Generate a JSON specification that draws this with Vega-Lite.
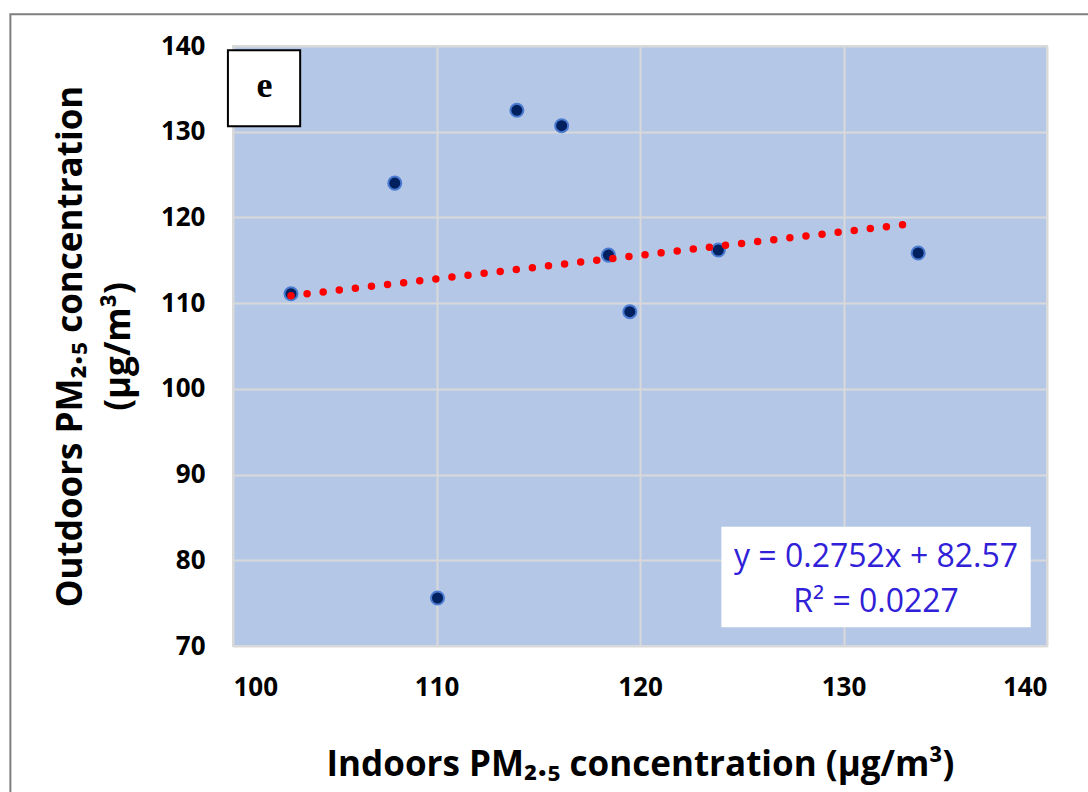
{
  "$schema": "https://vega.github.io/schema/vega-lite/v6.json",
  "width": 814,
  "height": 600,
  "autosize": {"type": "none"},
  "padding": {"left": 233, "top": 46, "right": 41, "bottom": 146},
  "background": "white",
  "config": {
    "view": {"fill": "#b4c7e7", "stroke": "#d9d9d9", "strokeWidth": 2},
    "axis": {
      "grid": true, "gridColor": "#d9d9d9", "gridWidth": 2,
      "domain": false, "ticks": false,
      "labelFont": "Open Sans", "labelFontWeight": "bold", "labelFontSize": 26, "labelColor": "#000000",
      "titleFont": "Open Sans", "titleFontWeight": "bold", "titleFontSize": 35, "titleColor": "#000000"
    }
  },
  "datasets": {
    "points": [
      {"indoor": 102.85, "outdoor": 111.1},
      {"indoor": 107.95, "outdoor": 124.0},
      {"indoor": 110.05, "outdoor": 75.6},
      {"indoor": 113.95, "outdoor": 132.5},
      {"indoor": 116.15, "outdoor": 130.7},
      {"indoor": 118.45, "outdoor": 115.6},
      {"indoor": 119.5, "outdoor": 109.0},
      {"indoor": 123.85, "outdoor": 116.2},
      {"indoor": 133.67, "outdoor": 115.85}
    ],
    "trend": [
      {"indoor": 102.85, "outdoor": 110.87},
      {"indoor": 133.67, "outdoor": 119.35}
    ]
  },
  "layer": [
    {
      "data": {"values": [{}]},
      "mark": {"type": "rect", "fill": null, "fillOpacity": 0, "stroke": "#7f7f7f", "strokeWidth": 2, "clip": false},
      "encoding": {
        "x": {"datum": 89.06, "type": "quantitative"},
        "x2": {"datum": 146},
        "y": {"datum": 143.7, "type": "quantitative"},
        "y2": {"datum": 50}
      }
    },
    {
      "data": {"name": "points"},
      "mark": {"type": "point", "filled": true, "fill": "#002060", "stroke": "#4a7bd0", "strokeWidth": 2, "size": 170, "opacity": 1, "fillOpacity": 1, "strokeOpacity": 1},
      "encoding": {
        "x": {
          "field": "indoor", "type": "quantitative",
          "scale": {"domain": [100, 140], "nice": false, "zero": false},
          "axis": {"values": [100, 110, 120, 130, 140], "labelPadding": 28, "title": "Indoors PM₂.₅  concentration (µg/m³)", "titlePadding": 47}
        },
        "y": {
          "field": "outdoor", "type": "quantitative",
          "scale": {"domain": [70, 140], "nice": false, "zero": false},
          "axis": {"values": [70, 80, 90, 100, 110, 120, 130, 140], "labelPadding": 28, "title": ["Outdoors PM₂.₅  concentration", "(µg/m³)"], "titlePadding": 24, "titleLineHeight": 48}
        }
      }
    },
    {
      "data": {"name": "trend"},
      "mark": {"type": "line", "color": "#ff0000", "strokeWidth": 7.5, "strokeDash": [0, 16.2], "strokeCap": "round"},
      "encoding": {
        "x": {"field": "indoor", "type": "quantitative"},
        "y": {"field": "outdoor", "type": "quantitative"}
      }
    },
    {
      "data": {"values": [{}]},
      "mark": {"type": "rect", "fill": "#ffffff", "stroke": "#000000", "strokeWidth": 2, "clip": false},
      "encoding": {
        "x": {"datum": 99.75, "type": "quantitative"},
        "x2": {"datum": 103.3},
        "y": {"datum": 139.5, "type": "quantitative"},
        "y2": {"datum": 130.65}
      }
    },
    {
      "data": {"values": [{"label": "e", "indoor": 101.55, "outdoor": 135.3}]},
      "mark": {"type": "text", "font": "Liberation Serif", "fontWeight": "bold", "fontSize": 36, "color": "#000000", "baseline": "middle", "align": "center"},
      "encoding": {
        "x": {"field": "indoor", "type": "quantitative"},
        "y": {"field": "outdoor", "type": "quantitative"},
        "text": {"field": "label"}
      }
    },
    {
      "data": {"values": [{}]},
      "mark": {"type": "rect", "fill": "#ffffff", "stroke": null},
      "encoding": {
        "x": {"datum": 124.0, "type": "quantitative"},
        "x2": {"datum": 139.2},
        "y": {"datum": 83.9, "type": "quantitative"},
        "y2": {"datum": 72.2}
      }
    },
    {
      "data": {"values": [
        {"label": "y = 0.2752x + 82.57", "indoor": 131.6, "outdoor": 80.4},
        {"label": "R² = 0.0227", "indoor": 131.6, "outdoor": 75.1}
      ]},
      "mark": {"type": "text", "font": "Open Sans", "fontSize": 32, "color": "#3020d8", "baseline": "middle", "align": "center"},
      "encoding": {
        "x": {"field": "indoor", "type": "quantitative"},
        "y": {"field": "outdoor", "type": "quantitative"},
        "text": {"field": "label"}
      }
    }
  ]
}
